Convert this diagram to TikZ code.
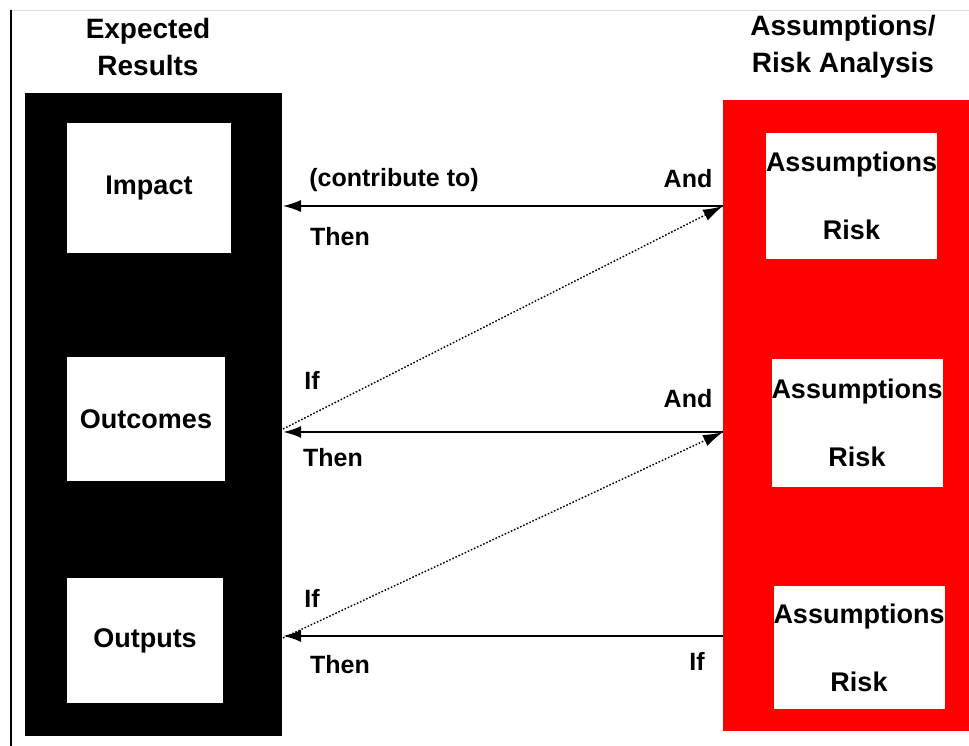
\documentclass[tikz,border=0pt]{standalone}
\usepackage{fontspec}
\setmainfont{Liberation Sans}
\definecolor{riskred}{RGB}{255, 0, 0}
\usetikzlibrary{arrows.meta, positioning}

\begin{document}
\begin{tikzpicture}[x=1pt, y=-1pt,
  every node/.style={font=\bfseries\fontsize{25}{30}\selectfont, inner sep=0pt},
  whitebox/.style={fill=white, align=center, font=\bfseries\fontsize{27}{68}\selectfont},
  title/.style={align=center, font=\bfseries\fontsize{28}{37}\selectfont},
  link/.style={line width=2.4pt, -{Latex[length=18pt, width=12pt]}},
  thinlink/.style={line width=1.3pt, -{Latex[length=18pt, width=12pt]}},
  dotlink/.style={line width=1.4pt, dash pattern=on 1.6pt off 1.8pt, -{Latex[length=20pt, width=12pt]}}
]
  \useasboundingbox (0,0) rectangle (969,746);
  % frame
  \draw[gray!25, line width=0.8pt] (11,10) -- (969,10);
  \draw[line width=1.4pt] (11,10) -- (11,746);

  % titles
  \node[title] (restitle) at (148,47) {Expected\\Results};
  \node[title] (risktitle) at (843,47) {Assumptions/\\Risk Analysis};

  % columns
  \node[fill=black, minimum width=257pt, minimum height=643pt] (results) at (153.5,414.5) {};
  \node[fill=riskred, minimum width=246pt, minimum height=631pt] (risks) at (846,415.5) {};

  % expected results
  \node[whitebox, minimum width=164pt, minimum height=130pt] (impact) at (149,188) {Impact};
  \node[whitebox, minimum width=158pt, minimum height=124pt] (outcomes) at (146,419) {Outcomes};
  \node[whitebox, minimum width=156pt, minimum height=125pt] (outputs) at (145,640.5) {Outputs};

  % assumptions
  \node[whitebox, minimum width=169pt, minimum height=126pt] (risk1) at (851.5,196) {Assumptions\\Risk};
  \node[whitebox, minimum width=170pt, minimum height=128pt] (risk2) at (857,423) {Assumptions\\Risk};
  \node[whitebox, minimum width=166pt, minimum height=123pt] (risk3) at (859,647.5) {Assumptions\\Risk};

  % link ends
  \coordinate (l1) at (283,206);
  \coordinate (r1) at (723,206);
  \coordinate (d1) at (283,429);
  \coordinate (l2) at (283,432);
  \coordinate (r2) at (723,432);
  \coordinate (d2) at (283,638);
  \coordinate (l3) at (283,636);
  \coordinate (r3) at (723,636);

  \draw[thinlink] (r1) -- (l1);
  \draw[link] (r2) -- (l2);
  \draw[link] (r3) -- (l3);
  \draw[dotlink] (d1) -- (r1);
  \draw[dotlink] (d2) -- (r2);

  % labels
  \node (contrib) at (394,180) {(contribute to)};
  \node (and1) at (688,179) {And};
  \node (then1) at (340,237) {Then};
  \node (if1) at (312,380) {If};
  \node (and2) at (688,399) {And};
  \node (then2) at (333,458) {Then};
  \node (if2) at (312,598) {If};
  \node (then3) at (340,665) {Then};
  \node (if3) at (697,661) {If};
\end{tikzpicture}
\end{document}
